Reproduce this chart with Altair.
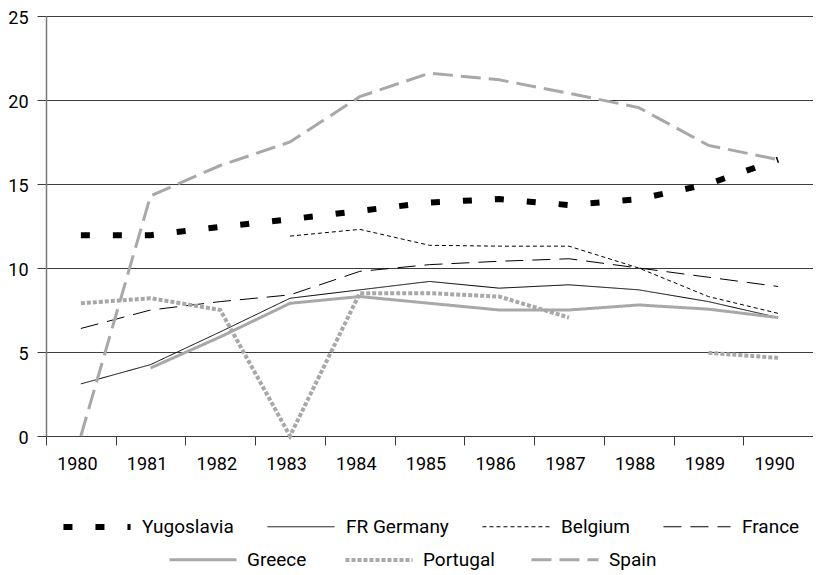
import altair as alt
import pandas as pd

years = [str(y) for y in range(1980, 1991)]

series_a = ["Yugoslavia", "FR Germany", "Belgium", "France"]
series_b = ["Greece", "Portugal", "Spain"]

yugoslavia = [11.95, 11.95, 12.45, 12.9, 13.4, 13.9, 14.1, 13.75, 14.1, 15.0, 16.45]
fr_germany = [3.1, 4.25, 6.2, 8.2, 8.7, 9.2, 8.8, 9.0, 8.7, 8.0, 7.05]
belgium = [None, None, None, 11.9, 12.3, 11.35, 11.3, 11.3, 10.0, 8.3, 7.3]
france = [6.4, 7.5, 8.0, 8.4, 9.8, 10.2, 10.4, 10.55, 10.0, 9.45, 8.9]
greece = [None, 4.05, 5.9, 7.9, 8.3, 7.9, 7.5, 7.5, 7.8, 7.55, 7.05]
portugal = [7.9, 8.2, 7.5, 0, 8.5, 8.5, 8.3, 7.05, None, 4.95, 4.65]
spain = [0, 14.3, 16.1, 17.5, 20.2, 21.6, 21.2, 20.4, 19.55, 17.3, 16.45]

y_ticks = [0, 5, 10, 15, 20, 25]

values_a = [yugoslavia, fr_germany, belgium, france]
values_b = [greece, portugal, spain]


def long_frame(names, series):
    rows = []
    for name, vals in zip(names, series):
        for yr, v in zip(years, vals):
            rows.append({"year": yr, "country": name, "value": v})
    return pd.DataFrame(rows)


df_a = long_frame(series_a, values_a)
df_b = long_frame(series_b, values_b)

FONT = "Roboto"
DARK = "#3c3c3c"
GRAY = "#a8a8a8"

x_enc = alt.X(
    "year:O",
    sort=years,
    bandPosition=0.5,
    scale=alt.Scale(type="band", paddingInner=0, paddingOuter=0),
    axis=alt.Axis(
        title=None,
        labelAngle=0,
        tickBand="extent",
        tickSize=9,
        tickColor=DARK,
        domainColor=DARK,
        labelPadding=10,
        labelOffset=-4,
        grid=False,
    ),
)
y_enc = alt.Y(
    "value:Q",
    scale=alt.Scale(domain=[0, 25], nice=False),
    axis=alt.Axis(
        title=None,
        values=y_ticks,
        grid=True,
        gridColor=DARK,
        tickSize=9,
        tickColor=DARK,
        domainColor="#7a7a7a",
        domainWidth=1.5,
        labelPadding=9,
        labelOffset=2,
    ),
)


def legend(x, y, cols):
    return alt.Legend(
        title=None,
        orient="none",
        legendX=x,
        legendY=y,
        columns=cols,
        symbolType="stroke",
        symbolSize=4500,
        columnPadding=30,
        labelOffset=8,
        labelFontSize=19,
        labelFont=FONT,
        labelColor="black",
    )


leg_a = legend(14, 474, 4)
leg_b = legend(121, 508, 3)

layer_a = alt.Chart(df_a).mark_line(invalid="break-paths-show-domains", strokeCap="butt").encode(
    x=x_enc,
    y=y_enc,
    color=alt.Color("country:N", sort=series_a,
                    scale=alt.Scale(domain=series_a, range=["#000000"] * 4), legend=leg_a),
    strokeDash=alt.StrokeDash("country:N", sort=series_a,
                              scale=alt.Scale(domain=series_a, range=[[9, 23], [1, 0], [4, 3], [18, 9]]),
                              legend=leg_a),
    strokeWidth=alt.StrokeWidth("country:N", sort=series_a,
                                scale=alt.Scale(type="ordinal", domain=series_a, range=[6, 1, 1, 1]),
                                legend=leg_a),
)

layer_b = alt.Chart(df_b).mark_line(invalid="break-paths-show-domains", strokeCap="butt").encode(
    x=x_enc,
    y=y_enc,
    color=alt.Color("country:N", sort=series_b,
                    scale=alt.Scale(domain=series_b, range=[GRAY] * 3), legend=leg_b),
    strokeDash=alt.StrokeDash("country:N", sort=series_b,
                              scale=alt.Scale(domain=series_b, range=[[1, 0], [4, 2], [20, 8]]),
                              legend=leg_b),
    strokeWidth=alt.StrokeWidth("country:N", sort=series_b,
                                scale=alt.Scale(type="ordinal", domain=series_b, range=[3, 4, 3]),
                                legend=leg_b),
)

chart = (
    alt.layer(layer_a, layer_b)
    .resolve_scale(color="independent", strokeDash="independent", strokeWidth="independent")
    .resolve_legend(color="independent", strokeDash="independent", strokeWidth="independent")
    .properties(
        width=767,
        height=420,
        padding={"left": 38, "top": 8, "right": 0, "bottom": 150},
        autosize=alt.AutoSizeParams(type="none"),
    )
    .configure(font=FONT)
    .configure_axis(labelFontSize=18, labelFont=FONT, labelColor="black")
    .configure_view(strokeWidth=0)
)

chart.save("out.html", embed_options={"renderer": "svg", "actions": False})
